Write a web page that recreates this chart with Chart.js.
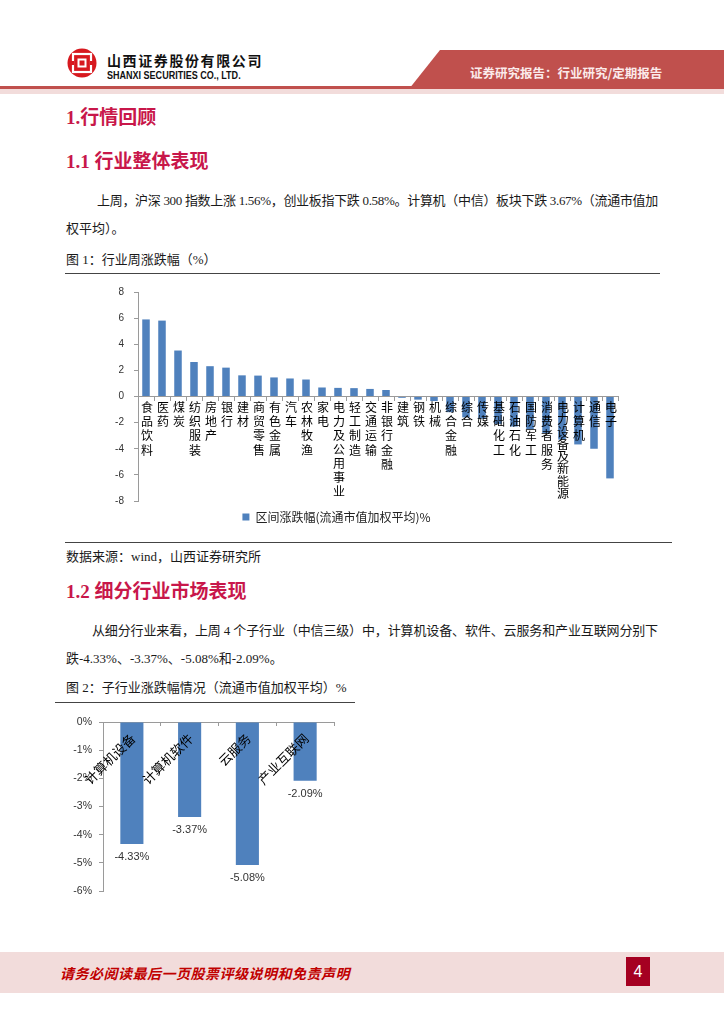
<!DOCTYPE html>
<html><head><meta charset="utf-8">
<script src="https://cdn.jsdelivr.net/npm/chart.js@4.4.0/dist/chart.umd.min.js"></script>
<style>
html,body{margin:0;padding:0;background:#fff;}
body{width:724px;height:1024px;position:relative;overflow:hidden;font-family:"Liberation Serif","Noto Sans CJK SC",serif;color:#1a1a1a;}
.abs{position:absolute;white-space:nowrap;}
.h{color:#c8174a;font-weight:bold;font-size:19px;line-height:24px;}
.p{font-size:13px;line-height:20px;}
.rule{position:absolute;height:1px;background:#444;}
canvas{position:absolute;}
</style></head><body>

<!-- header -->
<svg class="abs" style="left:0;top:0" width="724" height="100">
  <polygon points="440,50 724,50 724,89 409,89" fill="#c0504d"/>
  <circle cx="82" cy="63" r="14.5" fill="#d7191f"/>
  <rect x="73" y="54" width="18" height="18" fill="none" stroke="#fff" stroke-width="2.2"/>
  <rect x="78.5" y="59.5" width="7" height="7" fill="none" stroke="#fff" stroke-width="2"/>
  <rect x="68" y="61" width="6" height="4" fill="#d7191f"/>
  <rect x="90" y="61" width="6" height="4" fill="#d7191f"/>
</svg>
<div class="abs" style="left:0;top:86px;width:724px;height:3px;background:#c0504d"></div>
<div class="abs" style="left:0;top:89px;width:724px;height:5px;background:#f2dcdb"></div>
<div class="abs" style="left:107px;top:51px;font-family:'Noto Sans CJK SC';font-weight:bold;font-size:14px;line-height:18px;letter-spacing:1.6px;color:#111">山西证券股份有限公司</div>
<div class="abs" style="left:107px;top:68px;font-family:'Liberation Sans';font-weight:bold;font-size:11px;line-height:14px;color:#111;transform:scaleX(0.82);transform-origin:0 0">SHANXI SECURITIES CO., LTD.</div>
<div class="abs" style="left:470px;top:64px;font-family:'Noto Sans CJK SC';font-weight:bold;font-size:12.5px;line-height:18px;color:#fbeaea">证券研究报告：行业研究/定期报告</div>

<!-- text -->
<div class="abs h" style="left:66px;top:106px">1.行情回顾</div>
<div class="abs h" style="left:66px;top:150px">1.1 行业整体表现</div>
<div class="abs p fit" data-w="561" style="left:97px;top:191px">上周，沪深 300 指数上涨 1.56%，创业板指下跌 0.58%。计算机（中信）板块下跌 3.67%（流通市值加</div>
<div class="abs p" style="left:66px;top:219px">权平均）。</div>
<div class="abs p" style="left:66px;top:250px">图 1：行业周涨跌幅（%）</div>
<div class="rule" style="left:65px;top:273px;width:595px"></div>
<div class="rule" style="left:65px;top:542px;width:607px"></div>
<div class="abs p" style="left:66px;top:547px">数据来源：wind，山西证券研究所</div>
<div class="abs h" style="left:66px;top:580px">1.2 细分行业市场表现</div>
<div class="abs p fit" data-w="566" style="left:92px;top:621px">从细分行业来看，上周 4 个子行业（中信三级）中，计算机设备、软件、云服务和产业互联网分别下</div>
<div class="abs p" style="left:66px;top:649px">跌-4.33%、-3.37%、-5.08%和-2.09%。</div>
<div class="abs p" style="left:66px;top:678px">图 2：子行业涨跌幅情况（流通市值加权平均）%</div>
<div class="rule" style="left:55px;top:702px;width:300px"></div>

<!-- footer -->
<div class="abs" style="left:0;top:952px;width:724px;height:41px;background:#f2dcdb"></div>
<div class="abs" style="left:60px;top:963px;font-family:'Noto Sans CJK SC';font-weight:bold;font-style:italic;font-size:14px;line-height:20px;letter-spacing:0.5px;color:#c00000">请务必阅读最后一页股票评级说明和免责声明</div>
<div class="abs" style="left:626px;top:957px;width:24px;height:29px;background:#a50021;color:#fff;font-family:'Liberation Sans';font-size:16px;line-height:29px;text-align:center">4</div>

<canvas id="c1" width="615" height="271" style="left:55px;top:272px"></canvas>
<canvas id="c2" width="300" height="200" style="left:55px;top:705px"></canvas>

<script>
// fit justified text lines to their width
document.querySelectorAll('.fit').forEach(el => {
  const target = +el.dataset.w;
  const n = [...el.textContent].length;
  const w = el.getBoundingClientRect().width;
  el.style.letterSpacing = ((target - w) / n) + 'px';
});

// ---- data ----
const industries = ['食品饮料','医药','煤炭','纺织服装','房地产','银行','建材','商贸零售','有色金属','汽车','农林牧渔','家电','电力及公用事业','轻工制造','交通运输','非银行金融','建筑','钢铁','机械','综合金融','综合','传媒','基础化工','石油石化','国防军工','消费者服务','电力设备及新能源','计算机','通信','电子'];
const weeklyChange = [5.90,5.81,3.52,2.64,2.32,2.21,1.62,1.60,1.46,1.38,1.30,0.69,0.66,0.64,0.58,0.50,-0.10,-0.24,-0.35,-1.2,-1.6,-1.7,-2.1,-2.3,-2.5,-2.8,-3.3,-3.67,-4.00,-6.27];
const weeklySeriesName = '区间涨跌幅(流通市值加权平均)%';
const weeklyTicks = [-8,-6,-4,-2,0,2,4,6,8];

const subIndustries = ['计算机设备','计算机软件','云服务','产业互联网'];
const subChange = [-4.33,-3.37,-5.08,-2.09];
const subTicks = [-6,-5,-4,-3,-2,-1,0];

const BLUE = '#4f81bd';
const AXIS = '#9a9a9a';
Chart.defaults.font.family = '"Liberation Sans","Noto Sans CJK SC",sans-serif';
Chart.defaults.color = '#333';

// vertical stacked labels for chart 1
const verticalLabels = {
  id: 'verticalLabels',
  afterDraw(chart) {
    const {ctx, scales: {x, y}} = chart;
    const y0 = y.getPixelForValue(0);
    ctx.save();
    ctx.font = '12px "Noto Sans CJK SC"';
    ctx.fillStyle = '#000';
    ctx.textAlign = 'center';
    ctx.textBaseline = 'top';
    chart.data.labels.forEach((lab, i) => {
      const px = x.getPixelForValue(i) + 1;
      const chars = [...lab];
      const step = Math.min(14.2, 98 / chars.length);
      chars.forEach((ch, k) => ctx.fillText(ch, px, y0 + 5 + k * step));
    });
    ctx.restore();
  }
};

new Chart(document.getElementById('c1'), {
  type: 'bar',
  data: {
    labels: industries,
    datasets: [{label: weeklySeriesName, data: weeklyChange, backgroundColor: BLUE,
      barPercentage: 0.47, categoryPercentage: 1}]
  },
  options: {
    responsive: false, animation: false, devicePixelRatio: 1,
    layout: {padding: {top: 20, right: 52, bottom: 10, left: 0}},
    plugins: {
      legend: {position: 'bottom', labels: {boxWidth: 7, boxHeight: 7, padding: 10,
        font: {size: 12, family: '"Noto Sans CJK SC"'}, color: '#222'}},
      tooltip: {enabled: false}
    },
    scales: {
      x: {position: {y: 0}, offset: true,
        grid: {display: true, offset: true, drawOnChartArea: false, drawTicks: true, tickLength: 4, color: AXIS},
        border: {color: AXIS}, ticks: {display: false}},
      y: {min: weeklyTicks[0], max: weeklyTicks[weeklyTicks.length - 1],
        afterBuildTicks(s) { s.ticks = weeklyTicks.map(v => ({value: v})); },
        afterFit(s) { s.width = 83; },
        ticks: {padding: 10, font: {size: 10}, color: '#333'},
        grid: {drawOnChartArea: false, tickLength: 4, color: AXIS},
        border: {color: AXIS}}
    }
  },
  plugins: [verticalLabels]
});

// chart 2 labels
const subLabels = {
  id: 'subLabels',
  afterDraw(chart) {
    const {ctx, scales: {x, y}} = chart;
    const y0 = y.getPixelForValue(0);
    ctx.save();
    ctx.fillStyle = '#000';
    ctx.font = '13px "Noto Sans CJK SC"';
    ctx.textAlign = 'right';
    ctx.textBaseline = 'middle';
    chart.data.labels.forEach((lab, i) => {
      const px = x.getPixelForValue(i);
      ctx.save();
      ctx.translate(px + 1, y0 + 14);
      ctx.rotate(-Math.PI / 4);
      ctx.fillText(lab, 0, 0);
      ctx.restore();
    });
    const meta = chart.getDatasetMeta(0);
    ctx.font = '11px "Liberation Sans"';
    ctx.fillStyle = '#333';
    ctx.textAlign = 'center';
    meta.data.forEach((bar, i) => {
      ctx.fillText(chart.data.datasets[0].data[i].toFixed(2) + '%', bar.x, bar.y + 13);
    });
    ctx.restore();
  }
};

new Chart(document.getElementById('c2'), {
  type: 'bar',
  data: {
    labels: subIndustries,
    datasets: [{label: '涨跌幅', data: subChange, backgroundColor: BLUE,
      barPercentage: 0.4, categoryPercentage: 1}]
  },
  options: {
    responsive: false, animation: false, devicePixelRatio: 1,
    layout: {padding: {top: 17, right: 21, bottom: 14, left: 0}},
    plugins: {legend: {display: false}, tooltip: {enabled: false}},
    scales: {
      x: {position: {y: 0}, offset: true,
        grid: {display: true, offset: true, drawOnChartArea: false, drawTicks: true, tickLength: 3, color: AXIS},
        border: {color: AXIS}, ticks: {display: false}},
      y: {min: subTicks[0], max: subTicks[subTicks.length - 1],
        afterBuildTicks(s) { s.ticks = subTicks.map(v => ({value: v})); },
        afterFit(s) { s.width = 48; },
        ticks: {padding: 7, font: {size: 10.5}, color: '#333', callback: v => v + '%'},
        grid: {drawOnChartArea: false, tickLength: 4, color: AXIS},
        border: {color: AXIS}}
    }
  },
  plugins: [subLabels]
});
</script>
</body></html>
